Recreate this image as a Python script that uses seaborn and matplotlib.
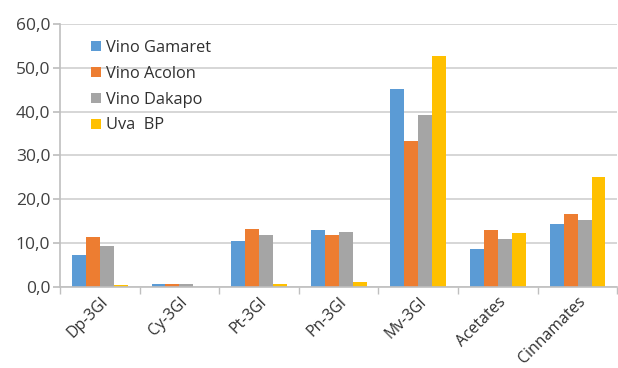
import numpy as np
import pandas as pd
import matplotlib
matplotlib.use("Agg")
import matplotlib.pyplot as plt
from matplotlib.ticker import FuncFormatter, FixedLocator
import seaborn as sns

categories = ["Dp-3Gl", "Cy-3Gl", "Pt-3Gl", "Pn-3Gl", "Mv-3Gl", "Acetates", "Cinnamates"]
series = ["Vino Gamaret", "Vino Acolon", "Vino Dakapo", "Uva  BP"]
gamaret = [7.4, 0.8, 10.6, 12.9, 45.2, 8.7, 14.4]
acolon = [11.4, 0.8, 13.2, 11.9, 33.3, 13.0, 16.6]
dakapo = [9.3, 0.8, 11.9, 12.5, 39.3, 10.9, 15.3]
uva_bp = [0.4, 0.0, 0.6, 1.2, 52.6, 12.3, 25.0]
colors = ["#5B9BD5", "#ED7D31", "#A5A5A5", "#FFC000"]

def main():
    rows = []
    for name, vals in zip(series, [gamaret, acolon, dakapo, uva_bp]):
        for cat, v in zip(categories, vals):
            rows.append({"category": cat, "series": name, "value": v})
    df = pd.DataFrame(rows)

    sns.set_theme(style="white")
    plt.rcParams['font.family'] = ['Open Sans', 'DejaVu Sans']

    fig = plt.figure(figsize=(6.18, 3.68), dpi=100)
    ax = fig.add_axes([0.097, 0.22, 0.902, 0.715])

    sns.barplot(data=df, x="category", y="value", hue="series", palette=colors,
                width=0.7, saturation=1, ax=ax, edgecolor="none", linewidth=0)

    ax.set_ylim(0, 60)
    ax.set_xlim(-0.5, len(categories) - 0.5)
    ax.set_yticks(np.arange(0, 61, 10))
    ax.yaxis.set_major_formatter(FuncFormatter(lambda v, p: f"{v:.1f}".replace(".", ",")))
    ax.yaxis.grid(True, color="#D0D0D0", linewidth=1.2)
    ax.set_axisbelow(True)
    ax.set_xlabel("")
    ax.set_ylabel("")

    for side in ["top", "right"]:
        ax.spines[side].set_visible(False)
    ax.spines["left"].set_color("#BFBFBF")
    ax.spines["bottom"].set_color("#BFBFBF")
    ax.spines["left"].set_linewidth(1.2)
    ax.spines["bottom"].set_linewidth(1.2)

    ax.tick_params(axis="y", which="major", length=5, color="#BFBFBF", labelsize=12.5,
                   labelcolor="#404040", pad=2, left=True)
    ax.tick_params(axis="x", which="major", length=0, labelsize=11.3,
                   labelcolor="#303030", pad=5)
    ax.xaxis.set_minor_locator(FixedLocator(np.arange(-0.5, len(categories), 1.0)))
    ax.tick_params(axis="x", which="minor", length=5, color="#BFBFBF", bottom=True)
    plt.setp(ax.get_xticklabels(), rotation=45, ha="right", rotation_mode="anchor")

    ax.legend(loc="upper left", bbox_to_anchor=(0.03, 0.995), frameon=False,
              fontsize=11.8, labelspacing=0.6, handlelength=0.6, handleheight=0.6,
              handletextpad=0.3, labelcolor="#303030")

    fig.savefig("out.png", dpi=100)
    plt.close(fig)

if __name__ == '__main__':
    main()
